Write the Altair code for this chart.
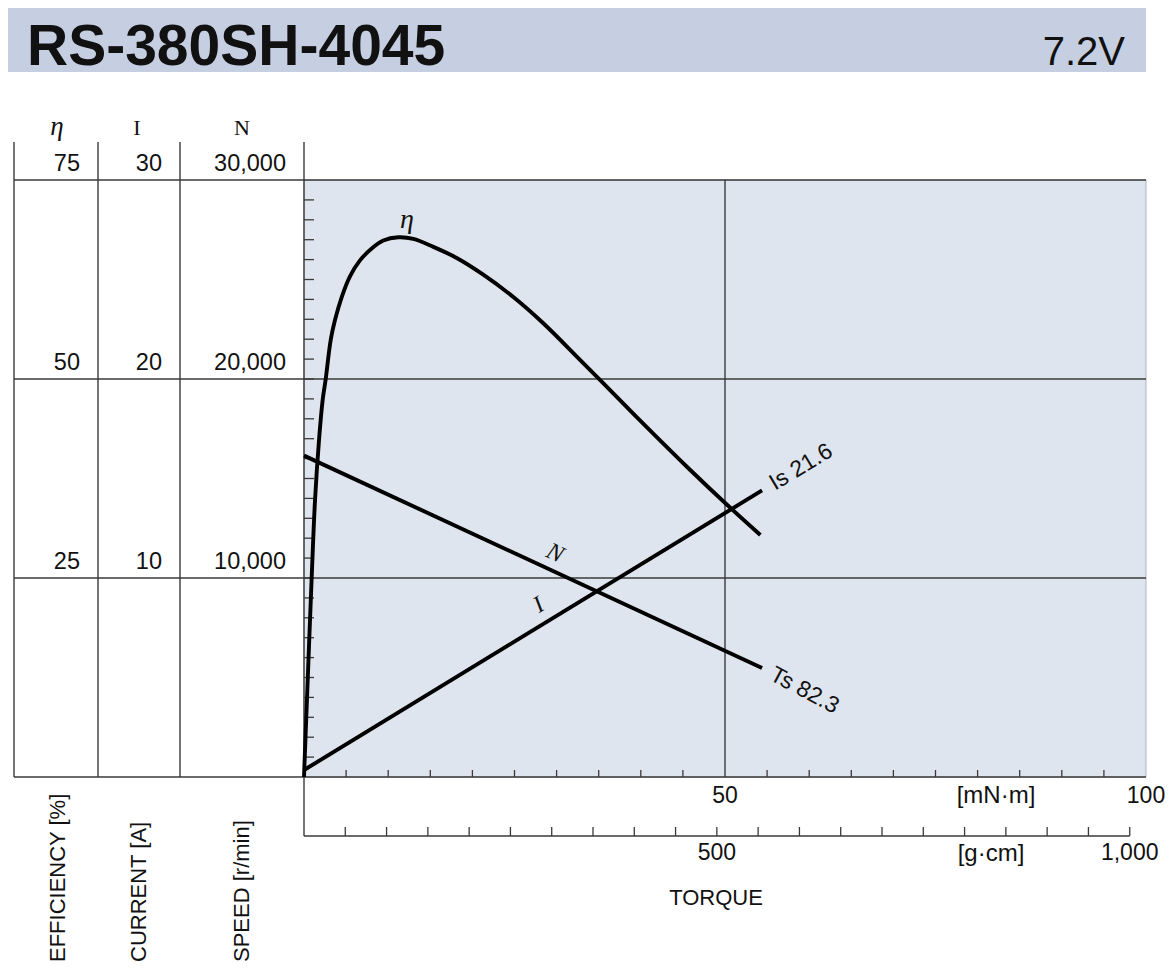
import altair as alt
import pandas as pd

# ---------------- data ----------------
model_name = "RS-380SH-4045"
voltage = "7.2V"

# efficiency curve: torque [mN·m] vs efficiency [%]
eta_torque = [0, 0.44, 0.91, 1.31, 1.78, 2.22, 2.58, 3.17, 3.68, 4.48, 5.46, 6.65,
              8.04, 9.42, 11.2, 12.98, 15.36, 18.14, 21.29, 24.86, 28.42, 32.78,
              35.15, 39.9, 45.84, 50.24, 54.2]
eta_value = [0, 12.2, 25.0, 34.8, 42.3, 47.4, 50.0, 54.9, 57.4, 60.3, 62.9, 64.9,
             66.4, 67.4, 67.8, 67.6, 66.6, 65.2, 63.1, 60.3, 57.0, 52.4,
             49.9, 44.8, 38.6, 34.2, 30.4]

# speed and current lines: torque [mN·m]
line_torque = [0, 54.4]
speed_value = [16150, 5480]     # r/min
current_value = [0.35, 14.4]    # A

stall_torque_label = "Ts 82.3"
stall_current_label = "Is 21.6"

eff_ticks = [25, 50, 75]
cur_ticks = [10, 20, 30]
speed_ticks = [10000, 20000, 30000]
speed_grid = [0, 10000, 20000, 30000]
speed_minor = [1000 * k for k in range(1, 30)]
torque_minor = [5, 10, 15, 20, 25, 30, 35, 40, 45, 55, 60, 65, 70, 75, 80, 85, 90, 95]
torque_labels = [50, 100]
gcm_minor = [50 * k for k in range(1, 21)]
gcm_labels = [500, 1000]

# ---------------- styling / layout ----------------
W, H = 842, 597
SANS = "Liberation Sans"
SERIF = "Liberation Serif"
GRID = "#3a3a3a"
BANNER = "#c6cfe2"
PLOTBG = "#dfe5ee"
INK = "#111111"


def X(field):
    return alt.X(field, type="quantitative",
                 scale=alt.Scale(domain=[0, 100], nice=False, zero=False), axis=None)


def XG(field):
    return alt.X(field, type="quantitative",
                 scale=alt.Scale(domain=[0, 1019.716], nice=False, zero=False), axis=None)


def YN(field):
    return alt.Y(field, type="quantitative",
                 scale=alt.Scale(domain=[0, 30000], nice=False, zero=False), axis=None)


def YI(field):
    return alt.Y(field, type="quantitative",
                 scale=alt.Scale(domain=[0, 30], nice=False, zero=False), axis=None)


def YE(field):
    return alt.Y(field, type="quantitative",
                 scale=alt.Scale(domain=[0, 75], nice=False, zero=False), axis=None)


one = pd.DataFrame({"title": [model_name], "volt": [voltage]})

layers = []

# title banner
layers.append(alt.Chart(one).mark_rect(color=BANNER).encode(
    x=alt.value(-296), x2=alt.value(842), y=alt.value(-172), y2=alt.value(-108)))
layers.append(alt.Chart(one).mark_text(
    align="left", baseline="alphabetic", font=SANS, fontSize=57, fontWeight="bold",
    color=INK).encode(x=alt.value(-277), y=alt.value(-115), text="title:N"))
layers.append(alt.Chart(one).mark_text(
    align="right", baseline="alphabetic", font=SANS, fontSize=40,
    color=INK).encode(x=alt.value(821), y=alt.value(-115), text="volt:N"))

# plot background
bg = pd.DataFrame({"t": [0], "t2": [100], "n": [0], "n2": [30000]})
layers.append(alt.Chart(bg).mark_rect(color=PLOTBG, stroke="#a9b2c2", strokeWidth=1).encode(
    x=X("t"), x2="t2", y=YN("n"), y2="n2"))

# horizontal grid lines across the scale table and plot
layers.append(alt.Chart(pd.DataFrame({"n": speed_grid})).mark_rule(
    color=GRID, strokeWidth=1.4).encode(x=alt.value(-290), x2=alt.value(842), y=YN("n")))

# vertical grid at 50 mN·m
layers.append(alt.Chart(pd.DataFrame({"t": [50]})).mark_rule(
    color=GRID, strokeWidth=1.4).encode(x=X("t"), y=alt.value(0), y2=alt.value(H)))

# scale-table column separators and plot left border
for px in [-290, -206, -124]:
    layers.append(alt.Chart(one).mark_rule(color=GRID, strokeWidth=1.4).encode(
        x=alt.value(px), y=alt.value(-38), y2=alt.value(H)))
layers.append(alt.Chart(one).mark_rule(color=GRID, strokeWidth=1.4).encode(
    x=alt.value(0), y=alt.value(-38), y2=alt.value(656)))

# minor speed ticks on left edge
layers.append(alt.Chart(pd.DataFrame({"n": speed_minor})).mark_rule(
    color=GRID, strokeWidth=1.3).encode(x=alt.value(0), x2=alt.value(10), y=YN("n")))

# scale-table headers
for txt, px, italic, size in [("η", -247, True, 27), ("I", -167, False, 22), ("N", -62, False, 22)]:
    layers.append(alt.Chart(pd.DataFrame({"h": [txt]})).mark_text(
        align="center", baseline="alphabetic", font=SERIF, fontSize=size,
        fontStyle="italic" if italic else "normal", color=INK).encode(
        x=alt.value(px), y=alt.value(-45), text="h:N"))

# scale-table tick labels
lab_style = dict(align="right", baseline="alphabetic", font=SANS, fontSize=23.5,
                 color=INK, dy=-9)
layers.append(alt.Chart(pd.DataFrame({"e": eff_ticks})).mark_text(**lab_style).encode(
    x=alt.value(-224), y=YE("e"), text=alt.Text("e:Q", format="d")))
layers.append(alt.Chart(pd.DataFrame({"i": cur_ticks})).mark_text(**lab_style).encode(
    x=alt.value(-142), y=YI("i"), text=alt.Text("i:Q", format="d")))
layers.append(alt.Chart(pd.DataFrame({"n": speed_ticks})).mark_text(**lab_style).encode(
    x=alt.value(-18), y=YN("n"), text=alt.Text("n:Q", format=",")))

# rotated axis titles
for txt, px in [("EFFICIENCY [%]", -246), ("CURRENT [A]", -165), ("SPEED [r/min]", -62)]:
    layers.append(alt.Chart(pd.DataFrame({"h": [txt]})).mark_text(
        align="left", baseline="middle", angle=270, font=SANS, fontSize=22,
        color=INK).encode(x=alt.value(px), y=alt.value(782), text="h:N"))

# torque (mN·m) axis ticks and labels
layers.append(alt.Chart(pd.DataFrame({"t": torque_minor})).mark_rule(
    color=GRID, strokeWidth=1.3).encode(x=X("t"), y=alt.value(H), y2=alt.value(H - 7)))
layers.append(alt.Chart(pd.DataFrame({"t": torque_labels})).mark_text(
    align="center", baseline="alphabetic", font=SANS, fontSize=23, color=INK).encode(
    x=X("t"), y=alt.value(623), text=alt.Text("t:Q", format="d")))
layers.append(alt.Chart(pd.DataFrame({"u": ["[mN·m]"]})).mark_text(
    align="center", baseline="alphabetic", font=SANS, fontSize=24, color=INK).encode(
    x=alt.value(692), y=alt.value(623), text="u:N"))

# torque (g·cm) axis
layers.append(alt.Chart(pd.DataFrame({"g": [0], "g2": [1000]})).mark_rule(
    color=GRID, strokeWidth=1.4).encode(x=XG("g"), x2="g2", y=alt.value(656)))
layers.append(alt.Chart(pd.DataFrame({"g": gcm_minor})).mark_rule(
    color=GRID, strokeWidth=1.3).encode(x=XG("g"), y=alt.value(656), y2=alt.value(647)))
layers.append(alt.Chart(pd.DataFrame({"g": gcm_labels})).mark_text(
    align="center", baseline="alphabetic", font=SANS, fontSize=23, color=INK).encode(
    x=XG("g"), y=alt.value(680), text=alt.Text("g:Q", format=",")))
layers.append(alt.Chart(pd.DataFrame({"u": ["[g·cm]"]})).mark_text(
    align="center", baseline="alphabetic", font=SANS, fontSize=24, color=INK).encode(
    x=alt.value(687), y=alt.value(681), text="u:N"))
layers.append(alt.Chart(pd.DataFrame({"u": ["TORQUE"]})).mark_text(
    align="center", baseline="alphabetic", font=SANS, fontSize=22, color=INK).encode(
    x=alt.value(412), y=alt.value(725), text="u:N"))

# ---------------- characteristic curves ----------------
curve = dict(color="#000000", strokeWidth=3.9, strokeCap="butt", strokeJoin="round")
df_eta = pd.DataFrame({"t": eta_torque, "e": eta_value})
df_n = pd.DataFrame({"t": line_torque, "n": speed_value})
df_i = pd.DataFrame({"t": line_torque, "i": current_value})

layers.append(alt.Chart(df_eta).mark_line(interpolate="catmull-rom", **curve).encode(
    x=X("t"), y=YE("e")))
layers.append(alt.Chart(df_n).mark_line(**curve).encode(x=X("t"), y=YN("n")))
layers.append(alt.Chart(df_i).mark_line(**curve).encode(x=X("t"), y=YI("i")))

# curve labels
layers.append(alt.Chart(pd.DataFrame({"t": [12.23], "e": [70.0], "s": ["η"]})).mark_text(
    align="center", baseline="middle", font=SERIF, fontStyle="italic", fontSize=28,
    color=INK).encode(x=X("t"), y=YE("e"), text="s:N"))
layers.append(alt.Chart(pd.DataFrame({"t": [29.8], "n": [11240], "s": ["N"]})).mark_text(
    align="center", baseline="middle", font=SERIF, fontStyle="italic", fontSize=24,
    angle=25, color=INK).encode(x=X("t"), y=YN("n"), text="s:N"))
layers.append(alt.Chart(pd.DataFrame({"t": [27.9], "i": [8.63], "s": ["I"]})).mark_text(
    align="center", baseline="middle", font=SERIF, fontStyle="italic", fontSize=24,
    angle=329, color=INK).encode(x=X("t"), y=YI("i"), text="s:N"))
layers.append(alt.Chart(pd.DataFrame({"t": [line_torque[-1]], "i": [current_value[-1]],
                                      "s": [stall_current_label]})).mark_text(
    align="left", baseline="middle", font=SANS, fontSize=23, angle=329, dx=11,
    color=INK).encode(x=X("t"), y=YI("i"), text="s:N"))
layers.append(alt.Chart(pd.DataFrame({"t": [line_torque[-1]], "n": [speed_value[-1]],
                                      "s": [stall_torque_label]})).mark_text(
    align="left", baseline="middle", font=SANS, fontSize=23, angle=28, dx=11,
    color=INK).encode(x=X("t"), y=YN("n"), text="s:N"))

chart = alt.layer(*layers).resolve_scale(x="independent", y="independent").properties(
    width=W, height=H,
    padding={"left": 296, "top": 172, "right": 20, "bottom": 190},
    autosize=alt.AutoSizeParams(type="none"),
    background="white",
).configure_view(stroke=None)

chart.save("out.html", embed_options={"renderer": "svg", "actions": False})
